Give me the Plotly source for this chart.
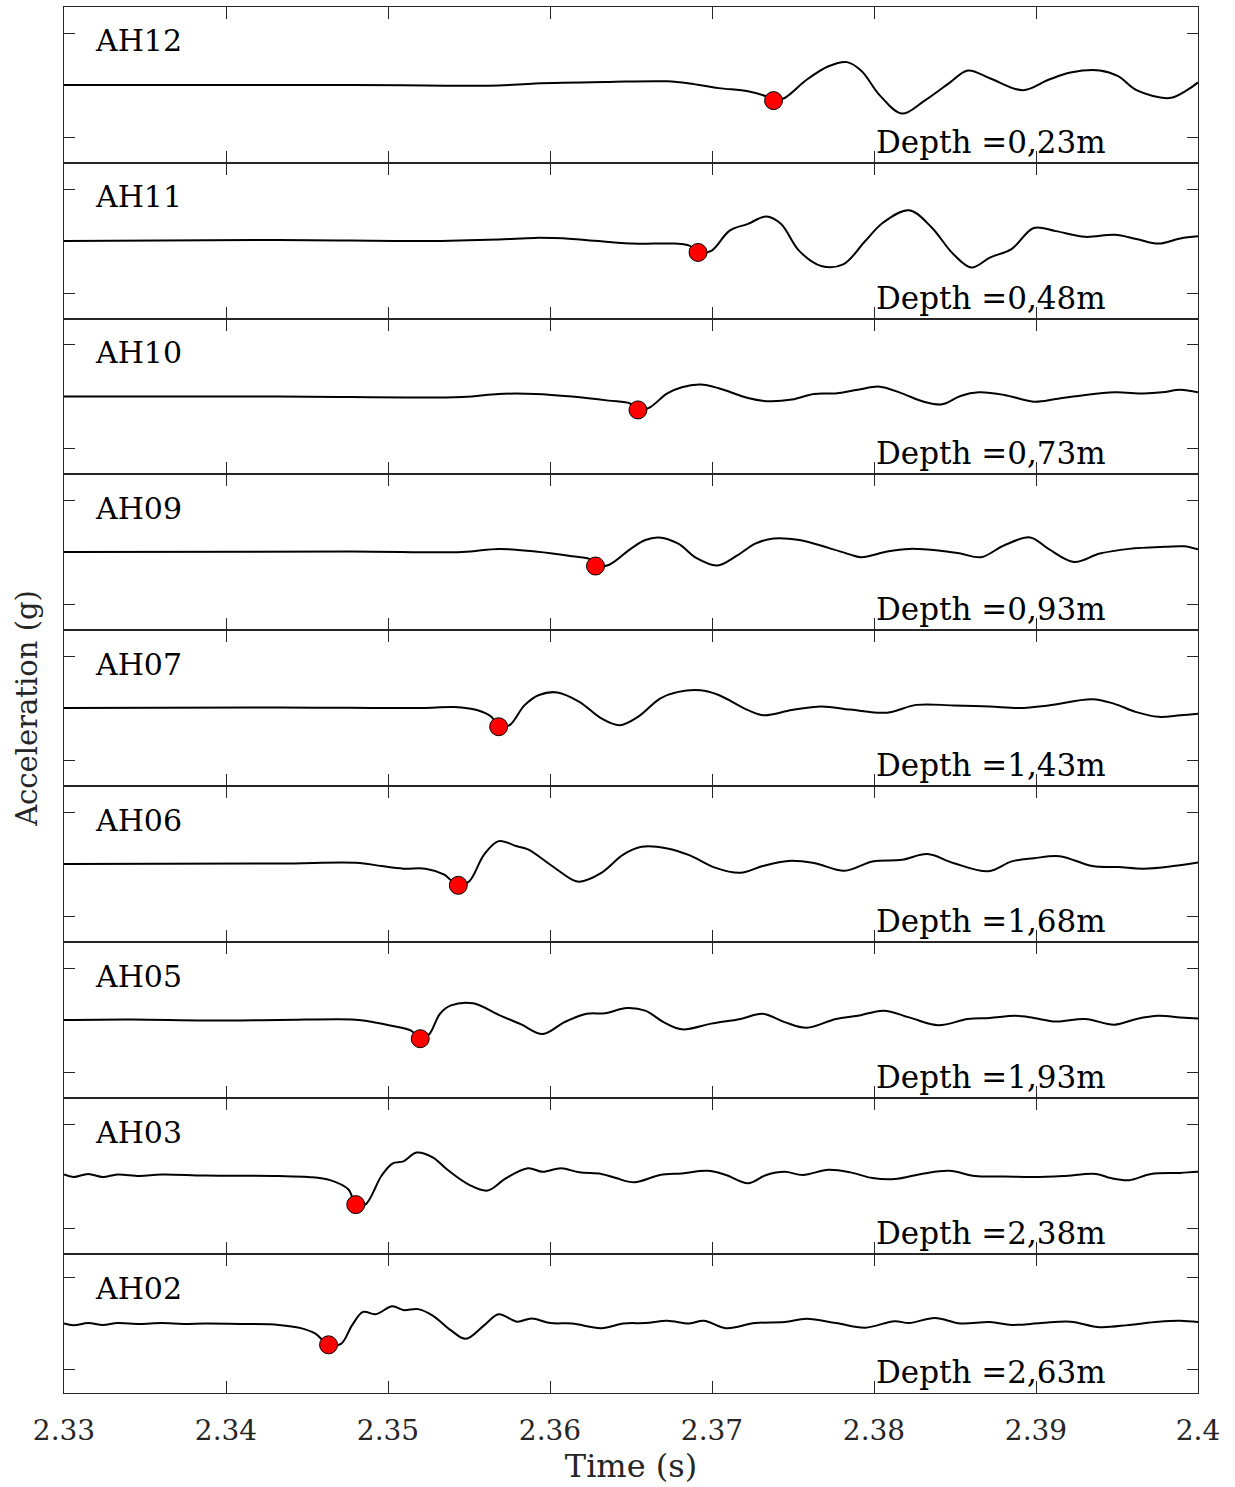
import plotly.graph_objects as go
from plotly.subplots import make_subplots

# ---------------- data ----------------
sensors = ["AH12", "AH11", "AH10", "AH09", "AH07", "AH06", "AH05", "AH03", "AH02"]
depth_labels = ["Depth =0,23m", "Depth =0,48m", "Depth =0,73m", "Depth =0,93m",
                "Depth =1,43m", "Depth =1,68m", "Depth =1,93m", "Depth =2,38m",
                "Depth =2,63m"]

t_AH12 = [2.3300, 2.33873, 2.34778, 2.35231, 2.35683, 2.35910, 2.36362, 2.36724, 2.36860,
          2.37041, 2.37222, 2.37335, 2.37380, 2.37448, 2.37584, 2.37719, 2.37833, 2.37923,
          2.38036, 2.38172, 2.38308, 2.38466, 2.38579, 2.38715, 2.38919, 2.39077, 2.39213,
          2.39394, 2.39507, 2.39620, 2.39824, 2.39937, 2.40000]
a_AH12 = [0.0, 0.0, 0.0, -0.01, -0.01, 0.03, 0.06, 0.07, 0.03,
          -0.06, -0.12, -0.22, -0.30, -0.25, 0.10, 0.36, 0.44, 0.27,
          -0.20, -0.55, -0.31, 0.04, 0.28, 0.13, -0.10, 0.10, 0.24,
          0.28, 0.17, -0.10, -0.25, -0.09, 0.05]

t_AH11 = [2.3300, 2.34326, 2.35231, 2.35683, 2.35910, 2.36136, 2.36498, 2.36769, 2.36860,
          2.36914, 2.36995, 2.37109, 2.37222, 2.37335, 2.37425, 2.37538, 2.37674, 2.37810,
          2.37946, 2.38059, 2.38217, 2.38353, 2.38489, 2.38602, 2.38715, 2.38851, 2.38986,
          2.39122, 2.39303, 2.39484, 2.39620, 2.39756, 2.39891, 2.40000]
a_AH11 = [0.0, 0.02, 0.0, 0.03, 0.06, 0.04, -0.05, -0.05, -0.09,
          -0.22, -0.19, 0.20, 0.33, 0.47, 0.33, -0.19, -0.48, -0.45,
          0.0, 0.36, 0.59, 0.27, -0.25, -0.51, -0.32, -0.15, 0.25,
          0.19, 0.08, 0.12, 0.04, -0.05, 0.05, 0.09]

t_AH10 = [2.3300, 2.34326, 2.35457, 2.35683, 2.35910, 2.36136, 2.36362, 2.36498, 2.36543,
          2.36611, 2.36724, 2.36814, 2.36928, 2.37041, 2.37222, 2.37335, 2.37493, 2.37629,
          2.37765, 2.37900, 2.38036, 2.38172, 2.38308, 2.38421, 2.38534, 2.38647, 2.38805,
          2.38986, 2.39122, 2.39303, 2.39484, 2.39665, 2.39778, 2.39891, 2.40000]
a_AH10 = [0.0, 0.0, -0.01, 0.05, 0.05, 0.0, -0.08, -0.14, -0.26,
          -0.22, 0.06, 0.18, 0.23, 0.16, -0.03, -0.09, -0.06, 0.05,
          0.06, 0.13, 0.19, 0.06, -0.10, -0.15, 0.01, 0.08, 0.03,
          -0.10, -0.05, 0.03, 0.08, 0.06, 0.08, 0.13, 0.08]

t_AH09 = [2.3300, 2.34778, 2.35457, 2.35683, 2.35910, 2.36136, 2.36249, 2.36281, 2.36362,
          2.36498, 2.36588, 2.36670, 2.36792, 2.36905, 2.37032, 2.37154, 2.37267, 2.37380,
          2.37538, 2.37719, 2.37855, 2.37923, 2.38081, 2.38217, 2.38398, 2.38534, 2.38661,
          2.38805, 2.38964, 2.39077, 2.39235, 2.39394, 2.39575, 2.39801, 2.39914, 2.40000]
a_AH09 = [0.0, 0.01, 0.0, 0.06, 0.01, -0.08, -0.14, -0.27, -0.25,
          0.06, 0.23, 0.28, 0.16, -0.12, -0.26, -0.07, 0.16, 0.26,
          0.23, 0.08, -0.05, -0.10, 0.01, 0.06, 0.03, -0.03, -0.10,
          0.13, 0.28, 0.06, -0.19, -0.03, 0.06, 0.10, 0.11, 0.05]

t_AH07 = [2.3300, 2.34326, 2.35231, 2.35412, 2.35548, 2.35638, 2.35683, 2.35751, 2.35842,
          2.35932, 2.36045, 2.36181, 2.36317, 2.36430, 2.36543, 2.36679, 2.36792, 2.36928,
          2.37041, 2.37222, 2.37321, 2.37493, 2.37674, 2.37855, 2.38081, 2.38262, 2.38489,
          2.38715, 2.38896, 2.39077, 2.39348, 2.39484, 2.39620, 2.39756, 2.39891, 2.40000]
a_AH07 = [0.0, 0.01, 0.0, 0.02, -0.04, -0.17, -0.36, -0.33, 0.05,
          0.25, 0.30, 0.12, -0.20, -0.33, -0.17, 0.18, 0.31, 0.34,
          0.25, -0.04, -0.14, -0.04, 0.03, -0.03, -0.09, 0.06, 0.05,
          0.03, 0.0, 0.05, 0.17, 0.08, -0.08, -0.17, -0.14, -0.11]

t_AH06 = [2.3300, 2.34326, 2.34824, 2.34959, 2.35095, 2.35231, 2.35344, 2.35434, 2.35502,
          2.35593, 2.35683, 2.35796, 2.35864, 2.36000, 2.36136, 2.36181, 2.36317, 2.36452,
          2.36566, 2.36724, 2.36860, 2.37018, 2.37176, 2.37312, 2.37471, 2.37629, 2.37819,
          2.37991, 2.38172, 2.38330, 2.38489, 2.38706, 2.38851, 2.38986, 2.39145, 2.39348,
          2.39507, 2.39665, 2.39846, 2.40000]
a_AH06 = [0.0, 0.01, 0.02, -0.04, -0.09, -0.09, -0.20, -0.41, -0.33,
          0.18, 0.44, 0.34, 0.28, -0.01, -0.30, -0.34, -0.17, 0.18,
          0.33, 0.30, 0.17, -0.07, -0.17, -0.04, 0.06, 0.02, -0.13,
          0.05, 0.08, 0.19, 0.02, -0.14, 0.05, 0.11, 0.15, -0.04,
          -0.06, -0.09, -0.04, 0.03]

t_AH05 = [2.3300, 2.33421, 2.33873, 2.34326, 2.34778, 2.34869, 2.35005, 2.35140, 2.35199,
          2.35253, 2.35321, 2.35389, 2.35525, 2.35683, 2.35819, 2.35955, 2.36090, 2.36226,
          2.36339, 2.36475, 2.36588, 2.36701, 2.36814, 2.36995, 2.37176, 2.37312, 2.37448,
          2.37584, 2.37765, 2.37900, 2.38059, 2.38217, 2.38398, 2.38579, 2.38715, 2.38873,
          2.38986, 2.39122, 2.39303, 2.39484, 2.39620, 2.39756, 2.39891, 2.40000]
a_AH05 = [0.0, 0.01, -0.01, 0.0, 0.01, -0.02, -0.10, -0.20, -0.36,
          -0.28, 0.12, 0.28, 0.32, 0.10, -0.08, -0.27, -0.04, 0.12,
          0.13, 0.23, 0.18, -0.04, -0.18, -0.07, 0.02, 0.12, -0.04,
          -0.15, 0.02, 0.08, 0.18, 0.05, -0.10, 0.02, 0.04, 0.08,
          0.04, -0.03, 0.02, -0.09, 0.02, 0.08, 0.05, 0.03]

t_AH03 = [2.3300, 2.33059, 2.33149, 2.33240, 2.33330, 2.33466, 2.33602, 2.33873, 2.34326,
          2.34507, 2.34643, 2.34756, 2.34801, 2.34860, 2.34959, 2.35027, 2.35095, 2.35176,
          2.35276, 2.35367, 2.35502, 2.35615, 2.35729, 2.35864, 2.35955, 2.36068, 2.36181,
          2.36317, 2.36407, 2.36520, 2.36679, 2.36814, 2.36973, 2.37086, 2.37222, 2.37335,
          2.37448, 2.37561, 2.37719, 2.37855, 2.37991, 2.38127, 2.38308, 2.38466, 2.38624,
          2.38805, 2.38986, 2.39167, 2.39371, 2.39462, 2.39575, 2.39710, 2.39891, 2.40000]
a_AH03 = [0.03, -0.02, 0.04, -0.02, 0.03, 0.0, 0.03, 0.01, 0.0,
          -0.02, -0.08, -0.26, -0.55, -0.55, 0.0, 0.24, 0.28, 0.45,
          0.36, 0.12, -0.17, -0.28, -0.04, 0.15, 0.08, 0.15, 0.07,
          0.04, -0.04, -0.12, 0.02, 0.05, 0.10, 0.02, -0.14, 0.02,
          0.08, 0.02, 0.12, 0.07, -0.04, -0.06, 0.05, 0.10, 0.0,
          -0.01, -0.02, 0.0, 0.04, -0.04, -0.08, 0.04, 0.06, 0.08]

t_AH02 = [2.3300, 2.33059, 2.33149, 2.33240, 2.33330, 2.33466, 2.33602, 2.33738, 2.33873,
          2.34100, 2.34326, 2.34462, 2.34552, 2.34633, 2.34710, 2.34778, 2.34846, 2.34923,
          2.35027, 2.35095, 2.35186, 2.35276, 2.35389, 2.35480, 2.35593, 2.35683, 2.35796,
          2.35887, 2.36000, 2.36136, 2.36317, 2.36452, 2.36588, 2.36724, 2.36860, 2.36950,
          2.37086, 2.37267, 2.37448, 2.37584, 2.37765, 2.37946, 2.38127, 2.38217, 2.38376,
          2.38534, 2.38715, 2.38851, 2.39032, 2.39213, 2.39394, 2.39575, 2.39756, 2.39891,
          2.40000]
a_AH02 = [0.0, -0.04, 0.01, -0.03, 0.01, -0.01, 0.01, -0.01, 0.0,
          -0.01, -0.03, -0.10, -0.22, -0.46, -0.44, -0.04, 0.25, 0.20,
          0.37, 0.29, 0.31, 0.17, -0.15, -0.33, -0.04, 0.20, 0.04,
          0.11, 0.01, 0.0, -0.10, 0.0, 0.01, 0.06, 0.0, 0.06,
          -0.10, 0.01, 0.03, 0.10, 0.01, -0.09, 0.05, 0.01, 0.12,
          0.0, 0.03, -0.03, 0.01, 0.04, -0.08, -0.03, 0.04, 0.06,
          0.03]

arrival_t = [2.37380, 2.36914, 2.36543, 2.36281, 2.35683, 2.35434, 2.35199, 2.34801, 2.34633]
arrival_a = [-0.30, -0.22, -0.26, -0.27, -0.36, -0.41, -0.36, -0.55, -0.46]

x_ticks = [2.33, 2.34, 2.35, 2.36, 2.37, 2.38, 2.39, 2.40]
x_ticktext = ["2.33", "2.34", "2.35", "2.36", "2.37", "2.38", "2.39", "2.4"]

series_t = [t_AH12, t_AH11, t_AH10, t_AH09, t_AH07, t_AH06, t_AH05, t_AH03, t_AH02]
series_a = [a_AH12, a_AH11, a_AH10, a_AH09, a_AH07, a_AH06, a_AH05, a_AH03, a_AH02]

# ---------------- figure ----------------
FONT = "DejaVu Serif"
AXC = "#262626"
n = len(sensors)
fig = make_subplots(rows=n, cols=1, shared_xaxes=True, vertical_spacing=0,
                    row_heights=[156, 156, 155, 156, 156, 156, 156, 156, 139])

for i in range(n):
    r = i + 1
    fig.add_trace(go.Scatter(x=series_t[i], y=series_a[i], mode="lines",
                             line=dict(color="black", width=2, shape="spline", smoothing=1.0),
                             showlegend=False, hoverinfo="skip"), row=r, col=1)
    fig.add_trace(go.Scatter(x=[arrival_t[i]], y=[arrival_a[i]], mode="markers",
                             marker=dict(color="red", size=18, line=dict(color="black", width=1)),
                             showlegend=False), row=r, col=1)
    fig.update_yaxes(range=[-1.5, 1.5], tickvals=[-1, 1], showticklabels=False,
                     ticks="inside", ticklen=11, tickwidth=1, tickcolor=AXC,
                     showline=True, linecolor=AXC, linewidth=1, mirror="ticks",
                     showgrid=False, zeroline=False, row=r, col=1)
    fig.update_xaxes(range=[2.33, 2.40], tickvals=x_ticks, ticktext=x_ticktext,
                     showticklabels=(r == n),
                     ticks="inside", ticklen=12, tickwidth=1, tickcolor=AXC,
                     showline=True, linecolor=AXC, linewidth=1, mirror="ticks",
                     showgrid=False, zeroline=False, row=r, col=1)
    sfx = "" if r == 1 else str(r)
    fig.add_annotation(text=sensors[i], xref=f"x{sfx} domain", yref=f"y{sfx} domain",
                       x=0.026, y=1 - 34 / (139 if r == n else 156), xanchor="left",
                       yanchor="middle", showarrow=False,
                       font=dict(family=FONT, size=30, color="black"))
    fig.add_annotation(text=depth_labels[i], xref=f"x{sfx} domain", yref=f"y{sfx} domain",
                       x=0.714, y=21 / (139 if r == n else 156), xanchor="left",
                       yanchor="middle", showarrow=False,
                       font=dict(family=FONT, size=31, color="black"))

fig.update_xaxes(title=dict(text="Time (s)", font=dict(family=FONT, size=32, color=AXC),
                            standoff=0),
                 tickfont=dict(family=FONT, size=28, color=AXC), ticklabelstandoff=12,
                 row=n, col=1)
fig.update_yaxes(title=dict(text="Acceleration (g)", font=dict(family=FONT, size=29, color=AXC),
                            standoff=16), row=5, col=1)

fig.update_layout(width=1235, height=1487, margin=dict(l=64, r=37, t=7, b=94),
                  paper_bgcolor="white", plot_bgcolor="white",
                  font=dict(family=FONT, color=AXC))

fig.write_html("out.html")
